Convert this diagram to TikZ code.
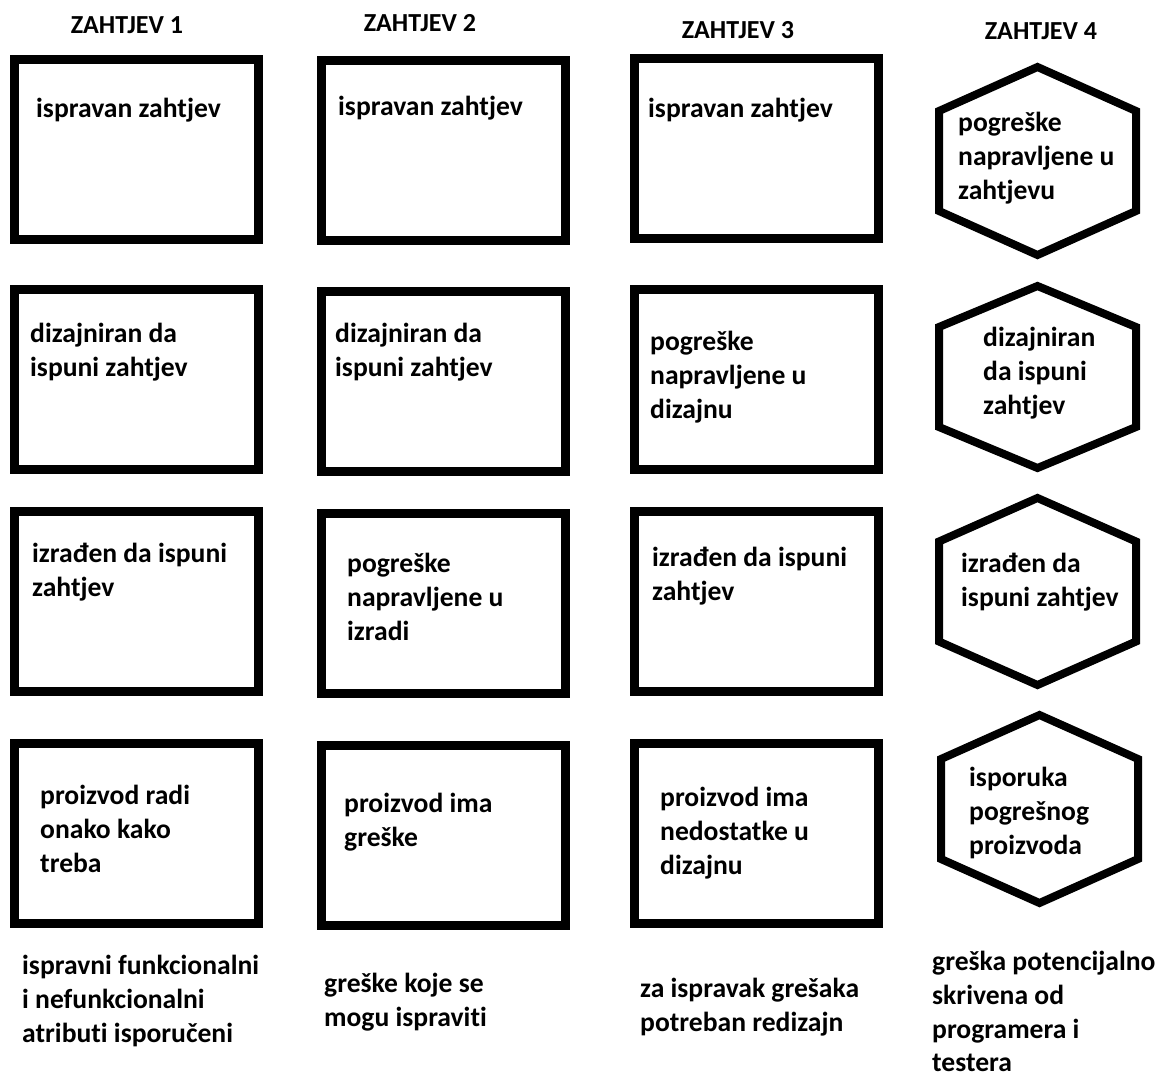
\documentclass[tikz,border=0pt]{standalone}
\usepackage{fontspec}
\setmainfont{Carlito}[Ligatures=NoCommon]

\begin{document}
\begin{tikzpicture}[x=1pt, y=-1pt,
        box/.style={draw, line width=9pt, minimum width=244pt, minimum height=180pt, inner sep=0pt},
        hexline/.style={line width=8pt},
        txt/.style={anchor=north west, inner sep=0pt, align=left,
                    font=\bfseries\fontsize{27.6}{33.8}\selectfont,
                    execute at begin node={\rule{0pt}{22pt}}},
        head/.style={anchor=base, inner sep=0pt, font=\bfseries\fontsize{26}{30}\selectfont}]
        \useasboundingbox (0,0) rectangle (1160,1077);

        \node[head] (h1) at (127,33) {ZAHTJEV 1};
        \node[head] (h2) at (420,31) {ZAHTJEV 2};
        \node[head] (h3) at (738,38) {ZAHTJEV 3};
        \node[head] (h4) at (1041,39) {ZAHTJEV 4};

        % boxes
        \node[box] (b11) at (136.5,149.5) {};
        \node[box] (b12) at (443,150.5) {};
        \node[box] (b13) at (756,148.5) {};
        \node[box] (b21) at (136.5,379.5) {};
        \node[box] (b22) at (443,381.5) {};
        \node[box] (b23) at (756,379.5) {};
        \node[box] (b31) at (136.5,601.5) {};
        \node[box] (b32) at (443,603.5) {};
        \node[box] (b33) at (756,601.5) {};
        \node[box] (b41) at (136.5,833) {};
        \node[box] (b42) at (443,835) {};
        \node[box] (b43) at (756,833) {};

        % hexagons
        \foreach \cx/\cy/\hh in {1037.5/161/94, 1037.5/377/91, 1037.5/591.5/93.5, 1039.5/809/94}
            \draw[hexline] (\cx,\cy-\hh) -- (\cx+98.5,\cy-50) -- (\cx+98.5,\cy+50) -- (\cx,\cy+\hh)
                -- (\cx-98.5,\cy+50) -- (\cx-98.5,\cy-50) -- cycle;

        \node[txt] (t11) at (36,95) {ispravan zahtjev};
        \node[txt] (t12) at (338,93) {ispravan zahtjev};
        \node[txt] (t13) at (648,95) {ispravan zahtjev};
        \node[txt] (t14) at (958,112) {pogreške\\napravljene u\\zahtjevu};

        \node[txt] (t21) at (30,323) {dizajniran da\\ispuni zahtjev};
        \node[txt] (t22) at (335,323) {dizajniran da\\ispuni zahtjev};
        \node[txt] (t23) at (650,331) {pogreške\\napravljene u\\dizajnu};
        \node[txt] (t24) at (983,327) {dizajniran\\da ispuni\\zahtjev};

        \node[txt] (t31) at (32,543) {izrađen da ispuni\\zahtjev};
        \node[txt] (t32) at (347,553) {pogreške\\napravljene u\\izradi};
        \node[txt] (t33) at (652,547) {izrađen da ispuni\\zahtjev};
        \node[txt] (t34) at (961,553) {izrađen da\\ispuni zahtjev};

        \node[txt] (t41) at (40,785) {proizvod radi\\onako kako\\treba};
        \node[txt] (t42) at (344,793) {proizvod ima\\greške};
        \node[txt] (t43) at (660,787) {proizvod ima\\nedostatke u\\dizajnu};
        \node[txt] (t44) at (969,767) {isporuka\\pogrešnog\\proizvoda};

        % notes below
        \node[txt] (n1) at (22,955) {ispravni funkcionalni\\i nefunkcionalni\\atributi isporučeni};
        \node[txt] (n2) at (324,973) {greške koje se\\mogu ispraviti};
        \node[txt] (n3) at (640,978) {za ispravak grešaka\\potreban redizajn};
        \node[txt] (n4) at (932,951) {greška potencijalno\\skrivena od\\programera i\\testera};
    \end{tikzpicture}
\end{document}
